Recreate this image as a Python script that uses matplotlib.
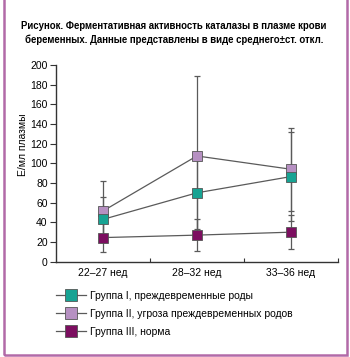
import numpy as np
import matplotlib.pyplot as plt
from matplotlib.patches import Rectangle
from matplotlib.lines import Line2D

plt.rcParams['font.family'] = ['Liberation Sans', 'DejaVu Sans']

periods = ['22–27 нед', '28–32 нед', '33–36 нед']
groups = ['Группа I, преждевременные роды',
          'Группа II, угроза преждевременных родов',
          'Группа III, норма']
means_1 = [43, 70, 86.5]
sd_1 = [22.5, 37, 45]
means_2 = [51.5, 107.5, 94]
sd_2 = [30.5, 81, 42]
means_3 = [24.5, 27, 30]
sd_3 = [15, 16, 17]
colors = ['#17a393', '#b690c2', '#7c0e60']
frame_col = '#b26aa8'
line_col = '#5a5a5a'

fig = plt.figure(figsize=(3.5, 3.57), dpi=100)
ax = fig.add_axes([0.16, 0.267, 0.805, 0.551])

x = np.arange(len(periods))
series = [(means_2, sd_2, colors[1]), (means_1, sd_1, colors[0]), (means_3, sd_3, colors[2])]
for m, s, c in series:
    ax.errorbar(x, m, yerr=s, fmt='none', ecolor=line_col, elinewidth=0.9,
                capsize=2.4, capthick=0.9, zorder=2)
for m, s, c in series:
    ax.plot(x, m, color=line_col, lw=0.9, marker='s', markersize=6.8,
            markerfacecolor=c, markeredgecolor='#555555', markeredgewidth=0.6, zorder=3)

ax.set_xlim(-0.5, 2.5)
ax.set_ylim(0, 200)
ax.set_yticks(np.arange(0, 201, 20))
ax.set_xticks([0.5, 1.5, 2.5])
ax.set_xticklabels([])
ax.tick_params(axis='x', direction='in', length=3, width=0.8, color='#333333')
ax.tick_params(axis='y', direction='out', length=4, width=0.8, labelsize=7.5,
               color='#333333', pad=2)
for i, p in enumerate(periods):
    ax.text(i, -12, p, ha='center', va='center', fontsize=7.5, transform=ax.transData)
for sp in ['top', 'right']:
    ax.spines[sp].set_visible(False)
for sp in ['left', 'bottom']:
    ax.spines[sp].set_linewidth(1.0)
    ax.spines[sp].set_color('#333333')

fig.text(0.066, 0.595, 'Е/мл плазмы', rotation=90, ha='center', va='center', fontsize=7.5)

fig.text(0.497, 0.907, 'Рисунок. Ферментативная активность каталазы в плазме крови\n'
         'беременных. Данные представлены в виде среднего±ст. откл.',
         ha='center', va='center', fontsize=6.9, fontweight='bold', linespacing=1.45)

handles = [Line2D([], [], color=line_col, lw=0.9, marker='s', markersize=9,
                  markerfacecolor=c, markeredgecolor='#555555', markeredgewidth=0.6)
           for c in colors]
fig.legend(handles, groups, loc='upper left', bbox_to_anchor=(0.148, 0.197),
           frameon=False, fontsize=7.5, handlelength=2.9, handletextpad=0.35,
           labelspacing=0.78, borderaxespad=0)

fig.add_artist(Rectangle((0.012, 0.006), 0.978, 1.1, transform=fig.transFigure,
                         fill=False, edgecolor=frame_col, lw=1.8))

fig.savefig('out.png', dpi=100)
